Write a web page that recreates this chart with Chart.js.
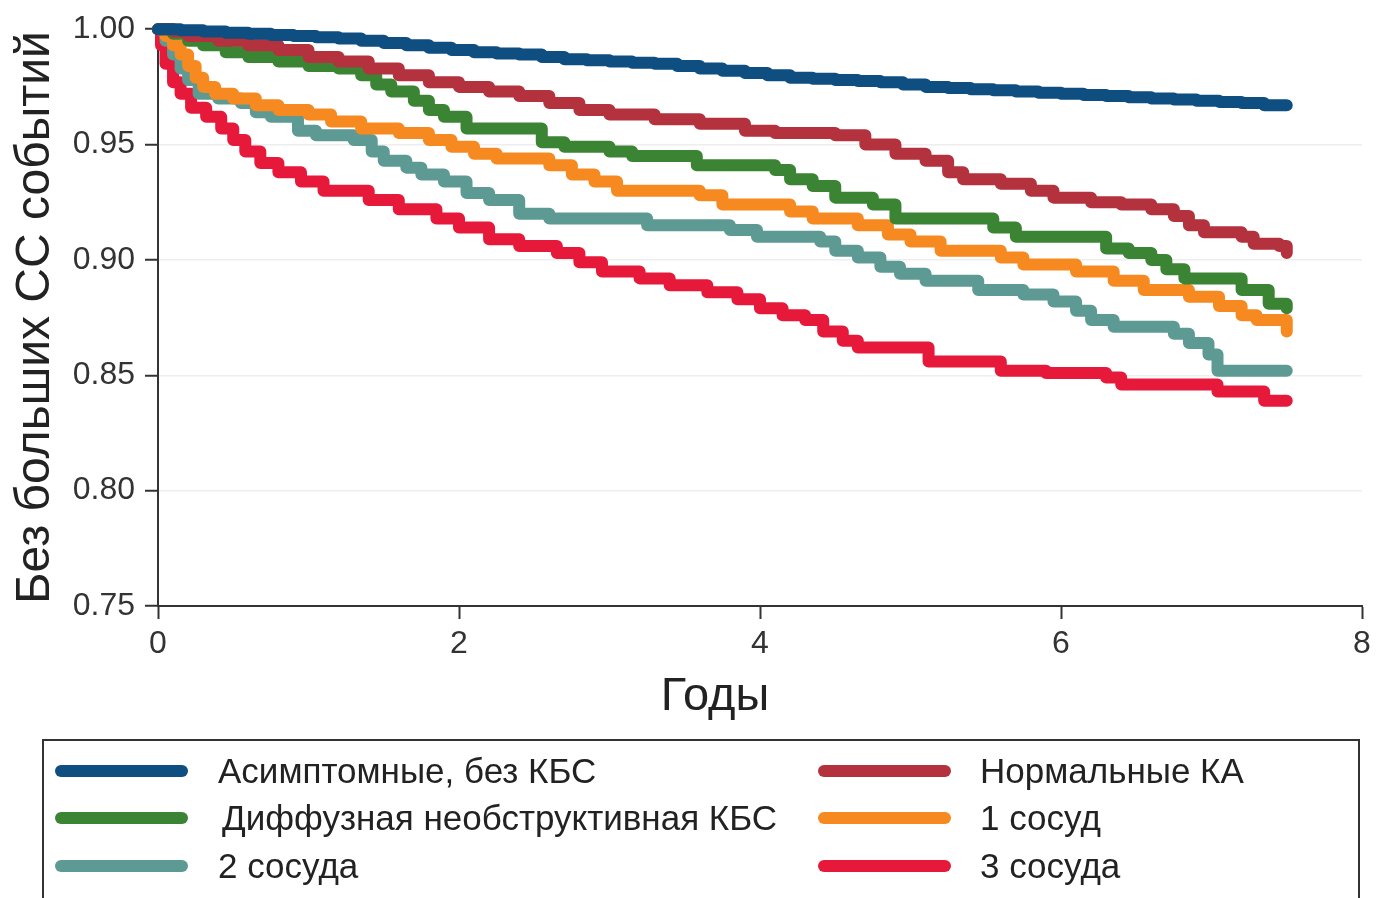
<!DOCTYPE html>
<html lang="ru">
<head>
  <meta charset="UTF-8">
  <title>Без больших СС событий</title>
  <script src="https://cdn.jsdelivr.net/npm/chart.js"></script>
  <style>
    body {
      margin: 0;
      background: #fff;
      font-family: 'Liberation Sans', Arial, sans-serif;
    }
    #wrap {
      position: relative;
      width: 1377px;
      height: 898px;
      overflow: hidden;
    }
    #xTitle {
      position: absolute;
      left: 565px;
      width: 300px;
      top: 667px;
      text-align: center;
      font-size: 47px;
      line-height: 54px;
      color: #222;
    }
    #legendBox {
      position: absolute;
      left: 42px;
      top: 739px;
      width: 1314px;
      height: 220px;
      border: 2px solid #333;
    }
    .swatch {
      position: absolute;
      width: 133px;
      height: 12px;
      border-radius: 6px;
    }
    .label {
      position: absolute;
      font-size: 35px;
      line-height: 40px;
      color: #222;
      white-space: nowrap;
    }
  </style>
</head>
<body>
  <div id="wrap">
    <canvas id="kmChart"></canvas>
    <div id="xTitle">Годы</div>
    <div id="legendBox"></div>
  </div>

  <script>
    const tAsympt = [0, 0.15, 0.3, 0.45, 0.6, 0.75, 0.9, 1.05, 1.2, 1.35, 1.5, 1.65, 1.8, 1.95, 2.1, 2.25, 2.4, 2.55, 2.7, 2.85, 3.0, 3.15, 3.3, 3.45, 3.6, 3.75, 3.9, 4.05, 4.2, 4.35, 4.5, 4.65, 4.8, 4.95, 5.1, 5.25, 5.4, 5.55, 5.7, 5.85, 6.0, 6.15, 6.3, 6.45, 6.6, 6.75, 6.9, 7.05, 7.2, 7.35, 7.5];
    const sAsympt = [1.000, 0.9995, 0.999, 0.9985, 0.998, 0.9975, 0.997, 0.9965, 0.996, 0.995, 0.994, 0.993, 0.992, 0.991, 0.990, 0.9895, 0.989, 0.988, 0.987, 0.9865, 0.986, 0.9855, 0.985, 0.984, 0.983, 0.982, 0.981, 0.980, 0.979, 0.9785, 0.978, 0.9775, 0.977, 0.976, 0.975, 0.9745, 0.974, 0.9735, 0.973, 0.9725, 0.972, 0.9715, 0.971, 0.9705, 0.970, 0.9695, 0.969, 0.9685, 0.968, 0.967, 0.967];

    const tNormal = [0, 0.1, 0.2, 0.4, 0.6, 0.8, 1.0, 1.2, 1.4, 1.6, 1.8, 2.0, 2.2, 2.4, 2.6, 2.8, 3.0, 3.3, 3.6, 3.9, 4.1, 4.5, 4.7, 4.9, 5.1, 5.25, 5.35, 5.6, 5.8, 5.95, 6.2, 6.4, 6.6, 6.75, 6.85, 6.95, 7.2, 7.28, 7.45, 7.5];
    const sNormal = [1.000, 0.999, 0.997, 0.995, 0.993, 0.991, 0.988, 0.986, 0.983, 0.980, 0.977, 0.975, 0.973, 0.971, 0.968, 0.965, 0.963, 0.961, 0.959, 0.956, 0.955, 0.954, 0.950, 0.946, 0.943, 0.938, 0.935, 0.933, 0.930, 0.927, 0.925, 0.924, 0.922, 0.919, 0.915, 0.912, 0.910, 0.907, 0.906, 0.903];

    const tDiffuse = [0, 0.1, 0.2, 0.3, 0.45, 0.6, 0.8, 1.0, 1.2, 1.35, 1.45, 1.55, 1.7, 1.8, 1.9, 2.05, 2.55, 2.7, 3.0, 3.15, 3.58, 4.1, 4.2, 4.35, 4.5, 4.75, 4.9, 5.55, 5.7, 6.3, 6.45, 6.6, 6.7, 6.82, 7.2, 7.38, 7.5];
    const sDiffuse = [1.000, 0.998, 0.995, 0.993, 0.990, 0.988, 0.986, 0.984, 0.983, 0.980, 0.976, 0.973, 0.969, 0.965, 0.962, 0.957, 0.951, 0.949, 0.947, 0.945, 0.941, 0.939, 0.935, 0.932, 0.927, 0.924, 0.918, 0.914, 0.910, 0.905, 0.903, 0.900, 0.896, 0.892, 0.887, 0.881, 0.879];

    const tOne = [0, 0.05, 0.1, 0.15, 0.2, 0.25, 0.3, 0.38, 0.5, 0.65, 0.8, 1.0, 1.15, 1.35, 1.6, 1.8, 1.95, 2.1, 2.25, 2.6, 2.75, 2.9, 3.05, 3.6, 3.75, 4.2, 4.35, 4.65, 4.85, 5.0, 5.2, 5.6, 5.75, 6.1, 6.35, 6.55, 6.85, 7.05, 7.2, 7.3, 7.5];
    const sOne = [1.000, 0.997, 0.993, 0.989, 0.984, 0.979, 0.975, 0.972, 0.970, 0.967, 0.965, 0.963, 0.960, 0.957, 0.955, 0.952, 0.949, 0.946, 0.944, 0.941, 0.937, 0.934, 0.930, 0.928, 0.924, 0.921, 0.918, 0.915, 0.911, 0.908, 0.904, 0.901, 0.898, 0.895, 0.891, 0.887, 0.884, 0.880, 0.876, 0.874, 0.869];

    const tTwo = [0, 0.05, 0.1, 0.15, 0.2, 0.27, 0.4, 0.55, 0.65, 0.75, 0.93, 1.05, 1.3, 1.42, 1.5, 1.65, 1.75, 1.9, 2.05, 2.2, 2.4, 2.6, 3.25, 3.8, 3.98, 4.4, 4.5, 4.65, 4.8, 4.93, 5.1, 5.45, 5.75, 5.95, 6.1, 6.2, 6.35, 6.75, 6.85, 6.98, 7.04, 7.5];
    const sTwo = [1.000, 0.995, 0.989, 0.983, 0.978, 0.972, 0.970, 0.968, 0.964, 0.962, 0.956, 0.954, 0.952, 0.947, 0.943, 0.940, 0.937, 0.934, 0.929, 0.926, 0.920, 0.918, 0.915, 0.913, 0.910, 0.908, 0.904, 0.901, 0.897, 0.894, 0.891, 0.887, 0.885, 0.882, 0.878, 0.874, 0.871, 0.868, 0.864, 0.859, 0.852, 0.852];

    const tThree = [0, 0.02, 0.05, 0.1, 0.15, 0.22, 0.32, 0.42, 0.5, 0.58, 0.68, 0.8, 0.95, 1.1, 1.4, 1.6, 1.85, 2.0, 2.2, 2.4, 2.65, 2.8, 2.95, 3.2, 3.4, 3.65, 3.85, 4.0, 4.15, 4.3, 4.42, 4.55, 4.65, 5.12, 5.6, 5.9, 6.3, 6.4, 7.04, 7.35, 7.5];
    const sThree = [1.000, 0.993, 0.985, 0.977, 0.972, 0.966, 0.962, 0.957, 0.952, 0.947, 0.942, 0.938, 0.934, 0.930, 0.926, 0.922, 0.918, 0.914, 0.909, 0.906, 0.903, 0.899, 0.895, 0.892, 0.889, 0.886, 0.883, 0.879, 0.876, 0.874, 0.869, 0.865, 0.862, 0.856, 0.852, 0.851, 0.849, 0.846, 0.843, 0.839, 0.839];

    const seriesLabels = ['Асимптомные, без КБС', 'Нормальные КА', 'Диффузная необструктивная КБС', '1 сосуд', '2 сосуда', '3 сосуда'];
    const seriesColors = ['#0f4e80', '#b3323d', '#3b8434', '#f68a20', '#5e9a94', '#e7193b'];
    const seriesTimes = [tAsympt, tNormal, tDiffuse, tOne, tTwo, tThree];
    const seriesSurv = [sAsympt, sNormal, sDiffuse, sOne, sTwo, sThree];

    const xTicks = [0, 2, 4, 6, 8];
    const yTicks = [0.75, 0.80, 0.85, 0.90, 0.95, 1.00];

    const datasets = seriesLabels.map((label, i) => ({
      label: label,
      data: seriesTimes[i].map((t, j) => ({ x: t, y: seriesSurv[i][j] })),
      borderColor: seriesColors[i],
      borderWidth: 12,
      borderCapStyle: 'round',
      borderJoinStyle: 'round',
      stepped: true,
      pointRadius: 0,
      fill: false,
      clip: false
    }));

    const axisColor = '#333';
    const tickFont = { family: "'Liberation Sans', Arial, sans-serif", size: 32 };

    new Chart(document.getElementById('kmChart'), {
      type: 'line',
      data: { datasets: datasets },
      options: {
        responsive: true,
        maintainAspectRatio: false,
        animation: false,
        layout: { padding: { top: 28, right: 15, left: 0, bottom: 232 } },
        plugins: {
          legend: { display: false },
          tooltip: { enabled: false }
        },
        scales: {
          x: {
            type: 'linear',
            min: 0,
            max: 8,
            afterBuildTicks: (scale) => { scale.ticks = xTicks.map(v => ({ value: v })); },
            afterFit: (scale) => { scale.height = 60; },
            ticks: { color: axisColor, font: tickFont, padding: 6, maxRotation: 0 },
            grid: { drawOnChartArea: false, tickLength: 13, tickColor: axisColor, tickWidth: 2 },
            border: { color: axisColor, width: 2 }
          },
          y: {
            min: 0.75,
            max: 1.0,
            afterBuildTicks: (scale) => { scale.ticks = yTicks.map(v => ({ value: v })); },
            afterFit: (scale) => { scale.width = 158; },
            ticks: {
              color: axisColor,
              font: tickFont,
              padding: 10,
              callback: (v) => Number(v).toFixed(2)
            },
            grid: {
              color: (ctx) => (ctx.tick && ctx.tick.value >= 0.999) ? 'rgba(0,0,0,0)' : '#eeeeee',
              lineWidth: 1.5,
              tickLength: 13,
              tickColor: axisColor,
              tickWidth: 2
            },
            border: { color: axisColor, width: 2 },
            title: {
              display: true,
              text: 'Без больших СС событий',
              color: '#222',
              font: { family: "'Liberation Sans', Arial, sans-serif", size: 48 },
              padding: { top: 7, bottom: 0 }
            }
          }
        }
      }
    });

    // легенда в рамке, две колонки
    const box = document.getElementById('legendBox');
    const colSwatchX = [11, 774];
    const colTextX = [174, 936];
    const rowY = [30, 77, 125];
    seriesLabels.forEach((label, i) => {
      const col = i % 2;
      const row = Math.floor(i / 2);
      const sw = document.createElement('div');
      sw.className = 'swatch';
      sw.style.left = colSwatchX[col] + 'px';
      sw.style.top = (rowY[row] - 6) + 'px';
      sw.style.background = seriesColors[i];
      box.appendChild(sw);
      const tx = document.createElement('div');
      tx.className = 'label';
      tx.style.left = (colTextX[col] + (i === 2 ? 4 : 0)) + 'px';
      tx.style.top = (rowY[row] - 20) + 'px';
      tx.textContent = label;
      box.appendChild(tx);
    });
  </script>
</body>
</html>
